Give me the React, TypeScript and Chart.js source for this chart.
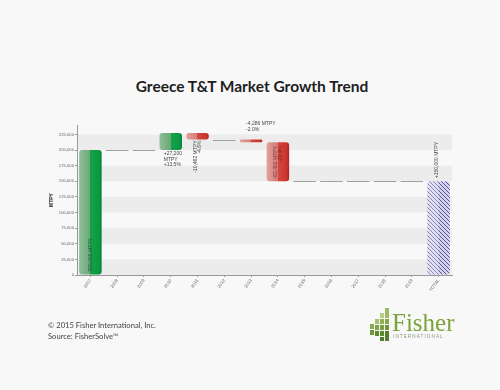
import React, { useEffect, useRef } from "react";
import { Chart, registerables } from "chart.js";
Chart.register(...registerables);

const categories = ["2007", "2008", "2009", "2010", "2011", "2012", "2013", "2014", "2015", "2016", "2017", "2018", "2019", "TOTAL"];
const startValues = [0, 200000, 200000, 200000, 227200, 216738, 216738, 212452, 150000, 150000, 150000, 150000, 150000, 0];
const endValues = [200000, 200000, 200000, 227200, 216738, 216738, 212452, 150000, 150000, 150000, 150000, 150000, 150000, 150000];
const barLabels: string[][] = [
  ["200,000 MTPY"], [], [], ["+27,200", "MTPY", "+13.5%"], ["-10,462 MTPY", "-4.6%"], [],
  ["-4,286 MTPY", "-2.0%"], ["-62,452 MTPY", "-29.4%"], [], [], [], [], [], ["+150,000 MTPY"],
];
const labelPlacement = ["insideBottom", "", "", "below", "belowVertical", "", "above", "insideTop", "", "", "", "", "", "aboveVertical"];
const yTicks = [0, 25000, 50000, 75000, 100000, 125000, 150000, 175000, 200000, 225000];
const yMax = 240000;

const LABEL_FONT = '5px "Liberation Sans", Arial, sans-serif';

function makeHatch(ctx: CanvasRenderingContext2D) {
  const c = document.createElement("canvas");
  c.width = 4; c.height = 4;
  const g = c.getContext("2d")!;
  g.fillStyle = "#d4d2ea";
  g.fillRect(0, 0, 4, 4);
  g.strokeStyle = "#5a549e";
  g.lineWidth = 1;
  g.beginPath();
  g.moveTo(-1, -1); g.lineTo(5, 5);
  g.moveTo(-1, 3); g.lineTo(1, 5);
  g.moveTo(3, -1); g.lineTo(5, 1);
  g.stroke();
  return ctx.createPattern(c, "repeat");
}

const waterfallPlugin = {
  id: "waterfall",
  beforeDraw(chart: any) {
    const { ctx, chartArea, scales } = chart;
    const y = scales.y;
    ctx.save();
    ctx.fillStyle = "#ececec";
    for (let k = 0; k < yTicks.length - 1; k += 2) {
      const top = y.getPixelForValue(yTicks[k + 1]);
      const bot = y.getPixelForValue(yTicks[k]);
      ctx.fillRect(chartArea.left, top, chartArea.right - chartArea.left, bot - top);
    }
    ctx.restore();
  },
  afterDatasetsDraw(chart: any) {
    const { ctx, scales } = chart;
    const meta = chart.getDatasetMeta(0);
    const barW = meta.data[0].width;
    ctx.save();
    ctx.strokeStyle = "#a0a0a0";
    ctx.lineWidth = 1;
    categories.forEach((_, i) => {
      if (startValues[i] === endValues[i]) {
        const cx = scales.x.getPixelForValue(i);
        const py = Math.round(scales.y.getPixelForValue(endValues[i])) + 0.5;
        ctx.beginPath();
        ctx.moveTo(cx - barW / 2, py);
        ctx.lineTo(cx + barW / 2, py);
        ctx.stroke();
      }
    });
    const last = categories.length - 1;
    const te = meta.data[last];
    ctx.fillStyle = "rgba(255,255,255,0.3)";
    ctx.fillRect(te.x - te.width / 2, Math.min(te.y, te.base), te.width / 2, Math.abs(te.base - te.y));
    ctx.font = LABEL_FONT;
    categories.forEach((_, i) => {
      const lines = barLabels[i];
      if (!lines.length) return;
      const el = meta.data[i];
      const top = Math.min(el.y, el.base);
      const bottom = Math.max(el.y, el.base);
      const mode = labelPlacement[i];
      const n = lines.length;
      ctx.fillStyle = "#444";
      if (mode === "below") {
        ctx.textAlign = "left"; ctx.textBaseline = "middle";
        lines.forEach((t, j) => ctx.fillText(t, el.x - 7, bottom + 3.5 + j * 5.7));
      } else if (mode === "above") {
        ctx.textAlign = "left"; ctx.textBaseline = "middle";
        lines.forEach((t, j) => ctx.fillText(t, el.x - 5, top - 10 - (n - 1 - j) * 5.7));
      } else {
        lines.forEach((t, j) => {
          ctx.save();
          let ax = el.x, ay = top;
          if (mode === "insideBottom") {
            ctx.fillStyle = "#1b5430"; ax = el.x + 0.5; ay = bottom - 3; ctx.textAlign = "left";
          } else if (mode === "insideTop") {
            ctx.fillStyle = "rgba(95,25,25,0.75)"; ax = el.x - 2 + j * 4.5; ay = top + 4; ctx.textAlign = "right";
          } else if (mode === "belowVertical") {
            ax = el.x - 2 + j * 4.5; ay = bottom + 1; ctx.textAlign = "right";
          } else if (mode === "aboveVertical") {
            ax = el.x - 2 + j * 4.5; ay = top - 3; ctx.textAlign = "left";
          }
          ctx.translate(ax, ay);
          ctx.rotate(-Math.PI / 2);
          ctx.textBaseline = "middle";
          ctx.fillText(t, 0, 0);
          ctx.restore();
        });
      }
    });
    ctx.restore();
  },
};

export default function App() {
  const ref = useRef<HTMLCanvasElement>(null);
  useEffect(() => {
    const canvas = ref.current!;
    const c2d = canvas.getContext("2d")!;
    const hatch = makeHatch(c2d);
    const chart = new Chart(canvas, {
      type: "bar",
      data: {
        labels: categories,
        datasets: [
          {
            data: categories.map((_, i) => (startValues[i] === endValues[i] ? null : [startValues[i], endValues[i]])) as any,
            backgroundColor: (ctx: any) => {
              const i = ctx.dataIndex;
              const chart = ctx.chart;
              if (i === undefined || i === null) return "#0a9a40";
              if (i === categories.length - 1) return hatch as any;
              const xs = chart.scales && chart.scales.x;
              const up = endValues[i] > startValues[i];
              const fallback = up ? "#0a9a40" : "#cc3b35";
              if (!xs) return fallback;
              const cx = xs.getPixelForValue(i);
              const w = (xs.width / categories.length) * 0.84;
              if (!isFinite(cx) || !isFinite(w) || w <= 0) return fallback;
              const g = chart.ctx.createLinearGradient(cx - w / 2, 0, cx + w / 2, 0);
              if (up) {
                g.addColorStop(0, "#8fbf98");
                g.addColorStop(0.49, "#6aa878");
                g.addColorStop(0.5, "#17a04a");
                g.addColorStop(0.88, "#0a9a40");
                g.addColorStop(1, "#07803a");
              } else {
                g.addColorStop(0, "#e2a19b");
                g.addColorStop(0.49, "#d27c76");
                g.addColorStop(0.5, "#d5463f");
                g.addColorStop(0.88, "#c93530");
                g.addColorStop(1, "#ad2522");
              }
              return g;
            },
            borderRadius: 3,
            borderSkipped: false,
            borderWidth: 0,
            categoryPercentage: 1,
            barPercentage: 0.84,
          },
        ],
      },
      options: {
        responsive: false,
        devicePixelRatio: 1,
        animation: false,
        layout: { padding: { left: 49, top: 125, right: 48, bottom: 90 } },
        plugins: { legend: { display: false }, tooltip: { enabled: false }, title: { display: false } },
        scales: {
          x: {
            grid: { display: true, drawOnChartArea: false, tickLength: 2, offset: false, color: "#999" },
            border: { display: true, color: "#999" },
            ticks: {
              autoSkip: false, minRotation: 55, maxRotation: 55, padding: 1,
              color: "#666", font: { size: 4.5, family: '"Liberation Sans", Arial, sans-serif' },
            },
            afterFit: (s: any) => { s.height = 25; },
          },
          y: {
            min: 0, max: yMax,
            afterBuildTicks: (s: any) => { s.ticks = yTicks.map((v) => ({ value: v })); },
            grid: { display: true, drawOnChartArea: false, tickLength: 2, color: "#999" },
            border: { display: true, color: "#999" },
            ticks: {
              padding: 1, color: "#666",
              font: { size: 4.2, family: '"Liberation Sans", Arial, sans-serif' },
              callback: (v: any) => Number(v).toLocaleString("en-US"),
            },
            title: {
              display: true, text: "MTPY", color: "#222", padding: 0,
              font: { size: 5, weight: "bold", family: '"Liberation Sans", Arial, sans-serif' },
            },
            afterFit: (s: any) => { s.width = 28; },
          },
        },
      },
      plugins: [waterfallPlugin],
    });
    return () => chart.destroy();
  }, []);

  return (
    <div style={{ position: "absolute", left: 0, top: 0, width: 500, height: 390, background: "#f8f8f9", overflow: "hidden" }}>
      <div style={{ position: "absolute", left: 0, width: 504, top: 77, textAlign: "center", font: 'bold 15.5px Lato, "Open Sans", sans-serif', color: "#1e1e1e" }}>
        Greece T&amp;T Market Growth Trend
      </div>
      <canvas ref={ref} width={500} height={390} style={{ position: "absolute", left: 0, top: 0, display: "block" }} />
      <div style={{ position: "absolute", left: 48, top: 320, font: '7.6px Lato, "Open Sans", sans-serif', color: "#444", lineHeight: "11px" }}>
        <div>© 2015 Fisher International, Inc.</div>
        <div>Source: FisherSolve™</div>
      </div>
      <svg style={{ position: "absolute", left: 368, top: 308 }} width={92} height={36}>
        <g>
          <rect x={2} y={16} width={4} height={5} fill="#8aab55" />
          <rect x={2} y={22} width={4} height={5} fill="#6e9a3a" />
          <rect x={7} y={11} width={4} height={5} fill="#a7c06f" />
          <rect x={7} y={17} width={4} height={5} fill="#7ea446" />
          <rect x={7} y={23} width={4} height={5} fill="#5f8c30" />
          <rect x={12} y={5} width={4} height={5} fill="#b8cd86" />
          <rect x={12} y={11} width={4} height={5} fill="#90b055" />
          <rect x={12} y={17} width={4} height={5} fill="#7aa040" />
          <rect x={12} y={23} width={4} height={5} fill="#5c8a2e" />
          <rect x={12} y={29} width={4} height={4} fill="#4f7c28" />
          <rect x={17} y={0} width={4} height={10} fill="#9dbb60" />
          <rect x={17} y={11} width={4} height={5} fill="#86a84b" />
          <rect x={17} y={17} width={4} height={5} fill="#6d9838" />
          <rect x={17} y={23} width={4} height={10} fill="#557f2a" />
        </g>
        <text x={24} y={23} fontFamily='"Liberation Serif", "DejaVu Serif", serif' fontSize={25} fill="#7aa33b">Fisher</text>
        <text x={25} y={30} fontFamily='"Liberation Sans", Arial, sans-serif' fontSize={4.6} letterSpacing={1.1} fill="#8a9a7a">INTERNATIONAL</text>
      </svg>
    </div>
  );
}
